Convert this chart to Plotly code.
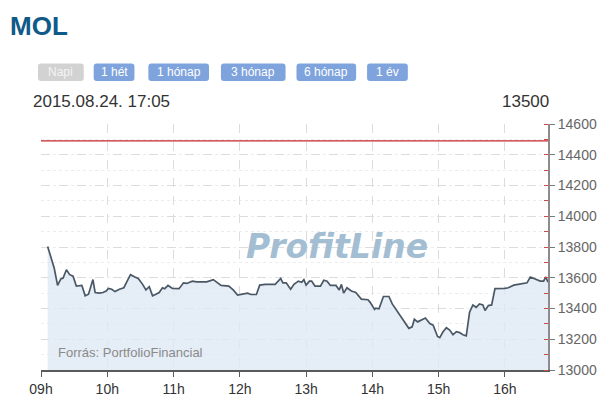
import plotly.graph_objects as go

# ---- data ----
times = ["09:06","09:12","09:15","09:18","09:20","09:23","09:26","09:29","09:32","09:37",
         "09:40","09:43","09:47","09:49","09:53","09:56","09:59","10:01","10:04","10:07",
         "10:11","10:15","10:18","10:21","10:25","10:28","10:32","10:35","10:38","10:41",
         "10:44","10:47","10:50","10:52","10:55","10:59","11:05","11:09","11:12","11:17",
         "11:21","11:30","11:36","11:39","11:43","11:50","11:54","11:58","12:02","12:05",
         "12:07","12:10","12:15","12:18","12:23","12:32","12:37","12:39","12:42","12:46",
         "12:49","12:53","12:56","12:58","13:00","13:03","13:05","13:08","13:13","13:16",
         "13:19","13:22","13:27","13:30","13:32","13:34","13:37","13:41","13:45","13:50",
         "13:56","13:58","14:02","14:03","14:06","14:10","14:15","14:18","14:21","14:24",
         "14:27","14:30","14:33","14:36","14:38","14:41","14:44","14:48","14:52","14:55",
         "14:59","15:01","15:04","15:07","15:10","15:13","15:16","15:19","15:22","15:25",
         "15:28","15:31","15:34","15:37","15:40","15:42","15:45","15:48","15:51","15:56",
         "16:00","16:03","16:08","16:12","16:17","16:20","16:23","16:27","16:32","16:35",
         "16:37","16:39"]
prices = [13804,13662,13550,13592,13598,13652,13620,13610,13546,13550,
          13483,13493,13588,13504,13500,13504,13514,13531,13525,13510,
          13525,13535,13578,13620,13605,13595,13557,13521,13542,13483,
          13493,13504,13535,13529,13550,13531,13529,13567,13563,13578,
          13573,13573,13588,13573,13550,13546,13521,13487,13493,13493,
          13500,13491,13491,13552,13557,13557,13595,13567,13567,13525,
          13557,13578,13571,13588,13552,13578,13578,13546,13546,13584,
          13578,13550,13550,13521,13557,13500,13535,13514,13504,13461,
          13457,13440,13394,13402,13398,13478,13478,13430,13398,13360,
          13334,13302,13271,13281,13330,13313,13324,13338,13302,13292,
          13218,13211,13249,13275,13260,13229,13249,13243,13229,13222,
          13376,13423,13408,13430,13423,13387,13419,13423,13529,13529,
          13531,13535,13552,13557,13563,13567,13605,13592,13578,13578,
          13605,13571]
prev_close = 14490
date_str = "2015-08-24"
header_time = "2015.08.24. 17:05"
header_price = "13500"
title = "MOL"
buttons = ["Napi", "1 hét", "1 hónap", "3 hónap", "6 hónap", "1 év"]
source = "Forrás: PortfolioFinancial"
watermark = "ProfitLine"
x_start, x_end = "09:00", "16:39"
y_min, y_max, y_step = 13000, 14600, 200

xs = [f"{date_str} {t}" for t in times]

O = 8  # page body offset
W, H = 609 - O, 409 - O
L, T = 41 - O, 124 - O
PW, PH = 510, 252
R, B = W - L - PW, H - T - PH

def px(x):
    return (x - O - L) / PW

def py(y):
    return (T + PH - (y - O)) / PH

fig = go.Figure()
fig.add_trace(go.Scatter(
    x=xs, y=prices, mode="lines",
    line=dict(color="#4a5866", width=1.7),
    fill="tozeroy", fillcolor="rgba(222,233,244,0.8)",
    hoverinfo="skip", showlegend=False))

fig.add_shape(type="line", xref="paper", yref="y", x0=0, x1=1,
              y0=prev_close, y1=prev_close,
              line=dict(color="#c4262e", width=1.4))

def rounded(x0, y0, x1, y1, r=3):
    def P(x, y):
        return f"{px(x):.5f},{py(y):.5f}"
    return (f"M {P(x0+r,y0)} L {P(x1-r,y0)} Q {P(x1,y0)} {P(x1,y0+r)} "
            f"L {P(x1,y1-r)} Q {P(x1,y1)} {P(x1-r,y1)} L {P(x0+r,y1)} "
            f"Q {P(x0,y1)} {P(x0,y1-r)} L {P(x0,y0+r)} Q {P(x0,y0)} {P(x0+r,y0)} Z")

btn_px = [(38, 84), (94, 135), (149, 210), (222, 287), (298, 358), (369, 410)]
annotations = []
for i, (lab, (a, b)) in enumerate(zip(buttons, btn_px)):
    col = "#d2d2d2" if i == 0 else "#7ea3dd"
    fig.add_shape(type="path", xref="paper", yref="paper",
                  path=rounded(a, 62, b, 80), fillcolor=col, line=dict(width=0),
                  layer="above")
    annotations.append(dict(x=px((a + b) / 2), y=py(71), xref="paper", yref="paper",
                            text=lab, showarrow=False, xanchor="center", yanchor="middle",
                            font=dict(family="Liberation Sans", size=12,
                                      color="#f4f4f4" if i == 0 else "white")))

annotations += [
    dict(x=px(10), y=py(8), xref="paper", yref="paper", text=f"<b>{title}</b>",
         showarrow=False, xanchor="left", yanchor="top", borderpad=0, borderwidth=0,
         font=dict(family="Liberation Sans", size=26, color="#0f5a88")),
    dict(x=px(31), y=py(101), xref="paper", yref="paper", text=header_time,
         showarrow=False, xanchor="left", yanchor="middle",
         font=dict(family="Liberation Sans", size=17, color="#333333")),
    dict(x=px(554), y=py(101), xref="paper", yref="paper", text=header_price,
         showarrow=False, xanchor="right", yanchor="middle",
         font=dict(family="Liberation Sans", size=17, color="#333333")),
    dict(x=px(339), y=py(249), xref="paper", yref="paper", text=watermark,
         showarrow=False, xanchor="center", yanchor="middle",
         font=dict(family="DejaVu Sans", size=33, color="#a3bed3",
                   weight="bold", style="italic")),
    dict(x=px(56), y=py(358), xref="paper", yref="paper", text=source,
         showarrow=False, xanchor="left", yanchor="middle",
         font=dict(family="Liberation Sans", size=13, color="#8a8a8a")),
]

fig.update_layout(
    width=W, height=H,
    margin=dict(l=L, r=R, t=T, b=B, pad=0),
    paper_bgcolor="white", plot_bgcolor="white",
    annotations=annotations,
    showlegend=False,
    xaxis=dict(
        type="date",
        range=[f"{date_str} {x_start}", f"{date_str} {x_end}"],
        dtick=3600000, tick0=f"{date_str} 09:00", tickformat="%Hh",
        showgrid=True, gridcolor="#dcdcdc", griddash="dash", gridwidth=1,
        showline=True, linecolor="#5a5a5a", linewidth=2,
        ticks="outside", ticklen=5, tickcolor="#5a5a5a", tickwidth=1,
        tickfont=dict(family="Liberation Sans", size=14, color="#333333"),
        zeroline=False, fixedrange=True,
    ),
    yaxis=dict(
        side="right",
        range=[y_min, y_max], dtick=y_step, tick0=y_min, tickformat="d",
        showgrid=True, gridcolor="#dcdcdc", griddash="dash", gridwidth=1,
        showline=True, linecolor="#8c8c8c", linewidth=2,
        ticks="outside", ticklen=5, tickcolor="#7a7a7a",
        tickfont=dict(family="Liberation Sans", size=14, color="#666666"),
        minor=dict(dtick=100, ticks="inside", ticklen=4, tickcolor="#d04848",
                   showgrid=True, gridcolor="#ececec", griddash="dot"),
        zeroline=False, fixedrange=True,
    ),
)

fig.write_html("out.html")
